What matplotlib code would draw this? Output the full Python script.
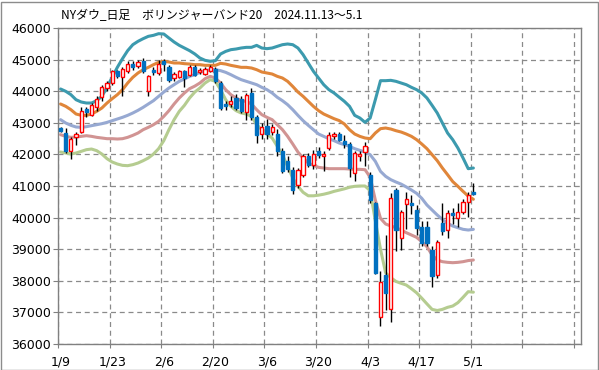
import matplotlib
matplotlib.use("Agg")
import matplotlib.pyplot as plt
from matplotlib.patches import Rectangle
import numpy as np

# ---- data ----
tick_labels = ["1/9", "1/23", "2/6", "2/20", "3/6", "3/20", "4/3", "4/17", "5/1"]
tick_index = [0, 10, 20, 30, 40, 50, 60, 70, 80]

open_ = [42835, 42680, 42120, 42540, 42710, 43436, 43236, 43490, 43806, 44100,
         44260, 44628, 44440, 44650, 44860, 44787, 44945, 43995, 44680, 44575,
         44950, 44770, 44420, 44440, 44650, 44520, 44755, 44600, 44560, 44650,
         44700, 44260, 43595, 43595, 43785, 43763, 43341, 43942, 43173, 42645,
         42900, 42708, 42645, 42096, 41800, 41516, 41042, 41358, 41938, 41675,
         42096, 41938, 42202, 42571, 42645, 42413, 42330, 41410, 41938, 42075,
         41350, 40472, 36843, 38183, 37096, 40873, 39350, 40430, 40470, 40240,
         39692, 39692, 38974, 38183, 39818, 39607, 40135, 39977, 40188, 40500,
         40819]
high = [42870, 42835, 42560, 42710, 43490, 43490, 43620, 43840, 44185, 44310,
        44680, 44680, 44755, 44945, 44945, 45000, 45050, 44520, 44755, 45000,
        45030, 44840, 44600, 44680, 44680, 44840, 44840, 44720, 44760, 44830,
        44780, 44310, 43700, 43837, 43900, 43850, 43950, 44100, 43250, 43000,
        43130, 42950, 42800, 42200, 41950, 41600, 41560, 42000, 42050, 42150,
        42250, 42100, 42700, 42700, 42720, 42600, 42400, 42100, 42100, 42400,
        41450, 40500, 38300, 39449, 40768, 40926, 40250, 40800, 40700, 40400,
        39900, 39900, 39100, 39300, 40450, 40250, 40300, 40450, 40600, 40800,
        41084]
low = [42700, 42040, 41870, 42310, 42680, 43170, 43200, 43380, 43700, 43995,
       44207, 44420, 43850, 44575, 44680, 44735, 44575, 43837, 44523, 44523,
       44630, 44290, 44310, 44420, 44120, 44470, 44470, 44560, 44500, 44600,
       44250, 43420, 43400, 43500, 43400, 43300, 43100, 43100, 42350, 42500,
       42500, 42600, 41950, 41400, 41450, 40750, 40950, 41300, 41600, 41550,
       41900, 41460, 42150, 42500, 42420, 42200, 41300, 41170, 41800, 41620,
       40450, 38200, 36580, 37075, 36706, 38950, 38974, 39650, 40100, 39450,
       39100, 39100, 37814, 38100, 39450, 39350, 39800, 39700, 40100, 40028,
       40700]
close = [42730, 42100, 42500, 42645, 43360, 43330, 43550, 43760, 44120, 44260,
         44628, 44470, 44713, 44860, 44755, 44924, 44650, 44470, 44597, 44860,
         44850, 44350, 44530, 44628, 44420, 44755, 44523, 44680, 44700, 44760,
         44312, 43468, 43542, 43700, 43468, 43362, 43890, 43173, 42603, 42856,
         42645, 42856, 42096, 41485, 41550, 40883, 41516, 41938, 41675, 42012,
         41990, 42012, 42603, 42645, 42466, 42330, 41570, 42044, 42012, 42255,
         40557, 38257, 37972, 37624, 40610, 39607, 40186, 40578, 40398, 39660,
         39185, 39185, 38162, 39217, 39586, 40135, 40082, 40188, 40504, 40700,
         40746]

upper2 = [44070, 43996, 43890, 43730, 43658, 43626, 43626, 43700, 43837, 44122,
          44440, 44755, 45030, 45283, 45472, 45578, 45662, 45736, 45768, 45820,
          45810, 45683, 45557, 45451, 45367, 45283, 45180, 45050, 44977, 44945,
          44966, 45177, 45260, 45314, 45335, 45367, 45388, 45388, 45450, 45367,
          45346, 45367, 45420, 45472, 45494, 45472, 45367, 45156, 44892, 44630,
          44417, 44206, 44048, 43943, 43810, 43679, 43521, 43236, 43152, 43014,
          43152, 43730, 44333, 44333, 44344, 44312, 44259, 44206, 44122, 44048,
          43943, 43785, 43552, 43310, 42993, 42677, 42466, 42202, 41886, 41548,
          41569]
upper1 = [43595, 43521, 43415, 43278, 43236, 43236, 43278, 43362, 43468, 43626,
          43763, 43890, 44048, 44259, 44439, 44576, 44681, 44755, 44840, 44913,
          44945, 44924, 44892, 44892, 44871, 44860, 44840, 44840, 44818, 44818,
          44818, 44882, 44860, 44818, 44787, 44755, 44755, 44734, 44681, 44607,
          44576, 44544, 44470, 44417, 44312, 44150, 43974, 43837, 43679, 43521,
          43384, 43278, 43204, 43130, 43070, 42962, 42782, 42645, 42571, 42519,
          42497, 42677, 42814, 42835, 42803, 42750, 42708, 42645, 42571, 42466,
          42329, 42181, 41991, 41801, 41569, 41358, 41140, 40990, 40830, 40680,
          40580]
middle = [43099, 42993, 42920, 42867, 42856, 42877, 42909, 42940, 42972, 43014,
          43067, 43120, 43173, 43236, 43310, 43394, 43489, 43595, 43700, 43837,
          43974, 44101, 44207, 44312, 44386, 44470, 44523, 44597, 44650, 44670,
          44681, 44650, 44597, 44523, 44440, 44365, 44312, 44260, 44207, 44122,
          44048, 43943, 43806, 43700, 43574, 43415, 43236, 43067, 42920, 42782,
          42645, 42571, 42497, 42434, 42360, 42307, 42255, 42181, 42128, 42075,
          41991, 41780, 41464, 41305, 41200, 41126, 41060, 40970, 40873, 40768,
          40610, 40399, 40240, 40082, 39945, 39818, 39734, 39681, 39629, 39607,
          39628]
lower1 = [42624, 42571, 42540, 42550, 42571, 42592, 42571, 42540, 42519, 42497,
          42497, 42487, 42497, 42540, 42603, 42677, 42782, 42856, 42940, 43046,
          43204, 43384, 43595, 43785, 43943, 44080, 44160, 44260, 44396, 44470,
          44417, 44260, 44048, 43890, 43785, 43700, 43679, 43595, 43415, 43257,
          43173, 43099, 42940, 42782, 42571, 42329, 42075, 41885, 41727, 41653,
          41590, 41569, 41548, 41548, 41548, 41548, 41538, 41527, 41527, 41516,
          41280, 40557, 39977, 39797, 39734, 39681, 39607, 39523, 39449, 39375,
          39238, 39080, 38816, 38658, 38605, 38584, 38573, 38584, 38605, 38640,
          38658]
lower2 = [42075, 42044, 42012, 42044, 42096, 42149, 42170, 42118, 42012, 41864,
          41759, 41696, 41653, 41643, 41675, 41727, 41801, 41885, 42012, 42181,
          42434, 42782, 43099, 43362, 43552, 43785, 43970, 44101, 44260, 44365,
          44312, 44048, 43731, 43521, 43384, 43310, 43278, 43204, 42940, 42782,
          42645, 42519, 42255, 41991, 41622, 41253, 40990, 40800, 40690, 40690,
          40710, 40740, 40780, 40830, 40870, 40910, 40960, 40990, 41000, 41000,
          40850, 39900, 39000, 38250, 38100, 37980, 37920, 37866, 37750, 37620,
          37450, 37270, 37096, 37060, 37096, 37160, 37202, 37308, 37477, 37656,
          37640]

# ---- figure ----
W, H = 599, 370
fig = plt.figure(figsize=(W / 100, H / 100), dpi=100)
fig.patch.set_facecolor("white")
ax = fig.add_axes([58 / W, 1 - 344 / H, (581 - 58) / W, (344 - 28) / H])

n = len(close)
x = np.arange(n)

# bands
band_styles = [
    (upper2, "#3C9AAE"),
    (upper1, "#E0863A"),
    (middle, "#97A9D2"),
    (lower1, "#D19493"),
    (lower2, "#B5CC90"),
]
for vals, col in band_styles:
    ax.plot(x, vals, color=col, lw=2.2, solid_capstyle="round",
            solid_joinstyle="round", zorder=2)

# candles (drawn over the bands)
o = np.array(open_); c = np.array(close)
up = c >= o
ax.vlines(x, low, high, color="black", lw=1.0, zorder=3)
bw = 0.62
ax.bar(x[up], (c - o)[up], bottom=o[up], width=bw, facecolor="white",
       edgecolor="#FF0000", linewidth=1.0, zorder=4)
ax.bar(x[~up], (o - c)[~up], bottom=c[~up], width=bw, facecolor="#0070C0",
       edgecolor="#0070C0", linewidth=1.0, zorder=4)

# axes
ax.set_xlim(-0.5, 100.86)
ax.set_ylim(36000, 46000)
bounds = [10 * k - 0.5 for k in range(11)]
ax.set_xticks(bounds)
ax.set_xticklabels([""] * len(bounds))
ax.set_xticks(tick_index, minor=True)
ax.set_xticklabels(tick_labels, minor=True)
ax.set_yticks(range(36000, 46001, 1000))
ax.tick_params(axis="x", which="major", length=3, width=0.8, color="#808080",
               direction="out")
ax.tick_params(axis="x", which="minor", length=0, pad=8, labelsize=9)
ax.tick_params(axis="y", which="major", length=3.5, width=0.8, color="#808080",
               direction="out", pad=1.5, labelsize=9)
ax.grid(True, which="major", color="#8A8A8A", linestyle=(0, (4, 3)), lw=0.9)
ax.set_axisbelow(True)
for sp in ax.spines.values():
    sp.set_color("#808080")
    sp.set_linewidth(1.0)

# title
title = "NYダウ_日足\u3000ボリンジャーバンド20\u30002024.11.13～5.1"
fig.text(61 / W, 1 - 16 / H, title, ha="left", va="center", fontsize=8.6,
         family=["Noto Sans CJK JP", "DejaVu Sans"])

# outer border
fig.patches.append(Rectangle((0.5 / W, 0.5 / H), (W - 2) / W, (H - 2) / H,
                             transform=fig.transFigure, fill=False,
                             edgecolor="#8C8C8C", lw=1.0))

fig.savefig("out.png", dpi=100)
